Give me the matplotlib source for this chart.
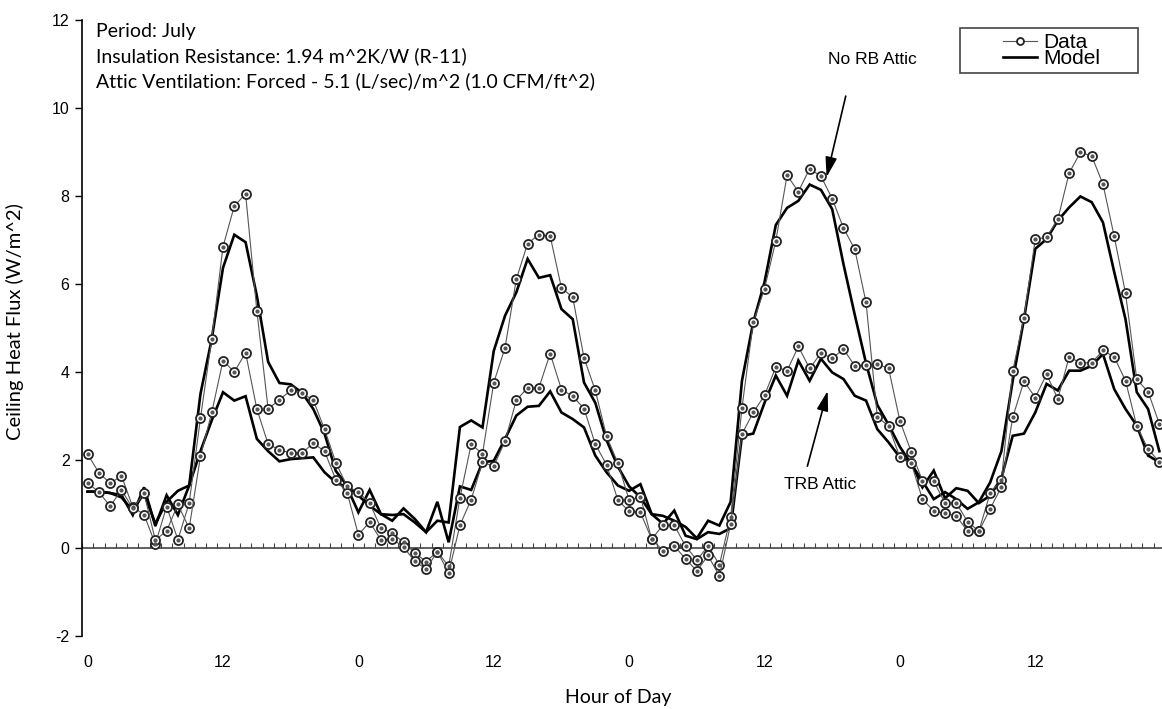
import numpy as np
import matplotlib
matplotlib.use("Agg")
import matplotlib.pyplot as plt
from matplotlib.lines import Line2D
from matplotlib.patches import Rectangle

# ---------------- data (hourly, 4 days) ----------------
hours = np.arange(96)
tick_labels = ["0", "12", "0", "12", "0", "12", "0", "12"]

data_norb = [2.13, 1.71, 1.47, 1.64, 0.93, 0.76, 0.09, 0.94, 0.19, 1.02,
             2.95, 4.75, 6.85, 7.77, 8.05, 5.39, 3.16, 3.37, 3.58, 3.52,
             3.36, 2.70, 1.94, 1.40, 1.27, 1.02, 0.45, 0.34, 0.13, -0.11,
             -0.31, -0.08, -0.42, 1.14, 2.36, 2.14, 3.76, 4.55, 6.11, 6.92,
             7.12, 7.09, 5.91, 5.70, 4.32, 3.58, 2.54, 1.93, 1.09, 1.17,
             0.20, 0.52, 0.52, 0.04, -0.27, 0.04, -0.38, 0.71, 3.18, 5.13,
             5.89, 6.98, 8.47, 8.10, 8.62, 8.45, 7.94, 7.27, 6.79, 5.58,
             2.98, 2.77, 2.06, 1.93, 1.11, 0.84, 0.79, 0.73, 0.38, 0.38,
             1.25, 1.55, 4.02, 5.23, 7.02, 7.06, 7.47, 8.52, 8.99, 8.91,
             8.27, 7.08, 5.79, 3.83, 3.55, 2.82]

data_trb = [1.48, 1.27, 0.95, 1.32, 0.90, 1.24, 0.18, 0.39, 0.99, 0.45,
            2.08, 3.08, 4.26, 4.00, 4.44, 3.16, 2.36, 2.23, 2.16, 2.16,
            2.38, 2.20, 1.55, 1.26, 0.30, 0.59, 0.18, 0.21, 0.02, -0.30,
            -0.48, -0.08, -0.57, 0.52, 1.10, 1.95, 1.86, 2.43, 3.36, 3.64,
            3.64, 4.42, 3.60, 3.45, 3.17, 2.36, 1.89, 1.09, 0.83, 0.81,
            0.20, -0.06, 0.05, -0.25, -0.52, -0.17, -0.64, 0.55, 2.59, 3.08,
            3.47, 4.11, 4.03, 4.58, 4.08, 4.43, 4.31, 4.52, 4.14, 4.16,
            4.18, 4.08, 2.89, 2.19, 1.53, 1.52, 1.02, 1.02, 0.60, 0.38,
            0.89, 1.39, 2.97, 3.79, 3.42, 3.95, 3.39, 4.34, 4.21, 4.21,
            4.49, 4.34, 3.80, 2.77, 2.25, 1.95]

model_norb = [1.28, 1.28, 1.25, 1.20, 0.75, 1.38, 0.50, 1.20, 0.75, 1.42,
              3.50, 4.75, 6.37, 7.12, 6.95, 5.73, 4.23, 3.75, 3.72, 3.53,
              3.16, 2.60, 1.75, 1.42, 1.19, 0.96, 0.77, 0.75, 0.77, 0.58,
              0.36, 0.62, 0.58, 2.75, 2.90, 2.74, 4.48, 5.28, 5.81, 6.57,
              6.14, 6.20, 5.43, 5.20, 3.76, 3.30, 2.45, 1.85, 1.40, 1.15,
              0.77, 0.73, 0.62, 0.48, 0.22, 0.62, 0.51, 1.05, 3.80, 5.13,
              6.04, 7.34, 7.73, 7.89, 8.26, 8.14, 7.70, 6.45, 5.30, 4.20,
              3.25, 2.80, 2.30, 1.91, 1.52, 1.11, 1.27, 1.11, 0.89, 1.04,
              1.49, 2.20, 3.80, 5.20, 6.80, 7.02, 7.44, 7.74, 7.99, 7.86,
              7.40, 6.27, 5.20, 3.54, 3.16, 2.20]

model_trb = [1.28, 1.28, 1.25, 1.15, 0.85, 1.25, 0.55, 1.05, 1.30, 1.42,
             2.20, 2.90, 3.54, 3.35, 3.45, 2.48, 2.20, 1.97, 2.02, 2.04,
             2.06, 1.72, 1.49, 1.38, 0.81, 1.32, 0.77, 0.62, 0.90, 0.66,
             0.36, 1.05, 0.13, 1.40, 1.32, 1.95, 1.98, 2.48, 3.01, 3.21,
             3.23, 3.56, 3.08, 2.93, 2.74, 2.10, 1.72, 1.42, 1.30, 1.45,
             0.77, 0.55, 0.85, 0.28, 0.20, 0.36, 0.32, 0.45, 2.55, 2.60,
             3.30, 3.92, 3.46, 4.26, 3.80, 4.30, 3.99, 3.84, 3.46, 3.35,
             2.70, 2.40, 2.06, 1.95, 1.38, 1.76, 1.13, 1.36, 1.30, 1.02,
             1.19, 1.59, 2.55, 2.60, 3.08, 3.73, 3.58, 4.03, 4.03, 4.14,
             4.41, 3.61, 3.16, 2.78, 2.10, 1.95]

info_lines = ["Period: July",
              "Insulation Resistance: 1.94 m^2K/W (R-11)",
              "Attic Ventilation: Forced - 5.1 (L/sec)/m^2 (1.0 CFM/ft^2)"]

# ---------------- figure ----------------
W, H = 1162, 709
fig = plt.figure(figsize=(W / 100, H / 100), dpi=100)
ax = fig.add_axes([82 / W, 1 - 636 / H, (1165 - 82) / W, 616 / H])

humanist = ["Lato", "DejaVu Sans"]
arial = ["Liberation Sans", "DejaVu Sans"]

data_kw = dict(color="#555555", lw=0.8, marker="o", ms=6.5, mfc="white",
               mec="#222222", mew=1.3, zorder=3)
dot_kw = dict(ls="none", marker="o", ms=2.0, color="#555555", zorder=4)
model_kw = dict(color="black", lw=1.9, zorder=2, solid_joinstyle="miter")

ax.plot(hours, model_norb, **model_kw)
ax.plot(hours, model_trb, **model_kw)
ax.plot(hours, data_norb, **data_kw)
ax.plot(hours, data_trb, **data_kw)
ax.plot(hours, data_norb, **dot_kw)
ax.plot(hours, data_trb, **dot_kw)

ax.set_xlim(-0.5, 95.5)
ax.set_ylim(-2, 12)

# axis styling
for s in ["top", "right", "bottom"]:
    ax.spines[s].set_visible(False)
ax.spines["left"].set_linewidth(1.2)
ax.axhline(0, color="#444444", lw=1.2, zorder=1)
# hourly category ticks on the zero line
ax.vlines(np.arange(len(hours) + 1) - 0.5, 0, 0.11, color="#444444", lw=0.8, zorder=1)

ax.set_yticks(np.arange(-2, 13, 2))
ax.set_yticklabels([str(v) for v in range(-2, 13, 2)], fontfamily=arial, fontsize=11.5)
ax.tick_params(axis="y", direction="out", length=5, width=1.0, pad=4)
ax.set_xticks(hours[::12])
ax.set_xticklabels(tick_labels, fontfamily=arial, fontsize=11.5)
ax.tick_params(axis="x", length=0, pad=14)

fig.text(618 / W, 1 - 697 / H, "Hour of Day", ha="center", va="center",
         fontfamily=humanist, fontsize=14)
fig.text(15 / W, 1 - 322 / H, "Ceiling Heat Flux (W/m^2)", rotation=90,
         ha="center", va="center", fontfamily=humanist, fontsize=14.5)

for i, line in enumerate(info_lines):
    fig.text(96 / W, 1 - (32 + 24.5 * i) / H, line, ha="left", va="center",
             fontfamily=humanist, fontsize=14)

# annotations
ax.annotate("", xy=(65.5, 8.43), xytext=(67.2, 10.27),
            arrowprops=dict(arrowstyle="-|>,head_length=1.2,head_width=0.35",
                            color="black", lw=1.2, shrinkA=0, shrinkB=0))
ax.text(69.6, 11.11, "No RB Attic", ha="center", va="center",
        fontfamily=arial, fontsize=12.5)
ax.annotate("", xy=(65.6, 3.57), xytext=(63.8, 1.86),
            arrowprops=dict(arrowstyle="-|>,head_length=1.2,head_width=0.35",
                            color="black", lw=1.2, shrinkA=0, shrinkB=0))
ax.text(64.9, 1.45, "TRB Attic", ha="center", va="center",
        fontfamily=arial, fontsize=12.5)

# legend
fig.patches.append(Rectangle((960 / W, 1 - 73 / H), 178 / W, 45 / H,
                             transform=fig.transFigure, fill=False,
                             edgecolor="#444444", lw=1.2))
handles = [Line2D([], [], color="#555555", lw=0.8, marker="o", ms=5,
                  mfc="white", mec="#222222", mew=1.3),
           Line2D([], [], color="black", lw=1.9)]
fig.legend(handles, ["Data", "Model"], loc="upper left",
           bbox_to_anchor=(1003 / W, 1 - 33 / H), frameon=False,
           prop=dict(family=arial, size=15), handlelength=1.63,
           handletextpad=0.3, labelspacing=-0.12, borderpad=0,
           borderaxespad=0)

fig.savefig("out.png", dpi=100)
